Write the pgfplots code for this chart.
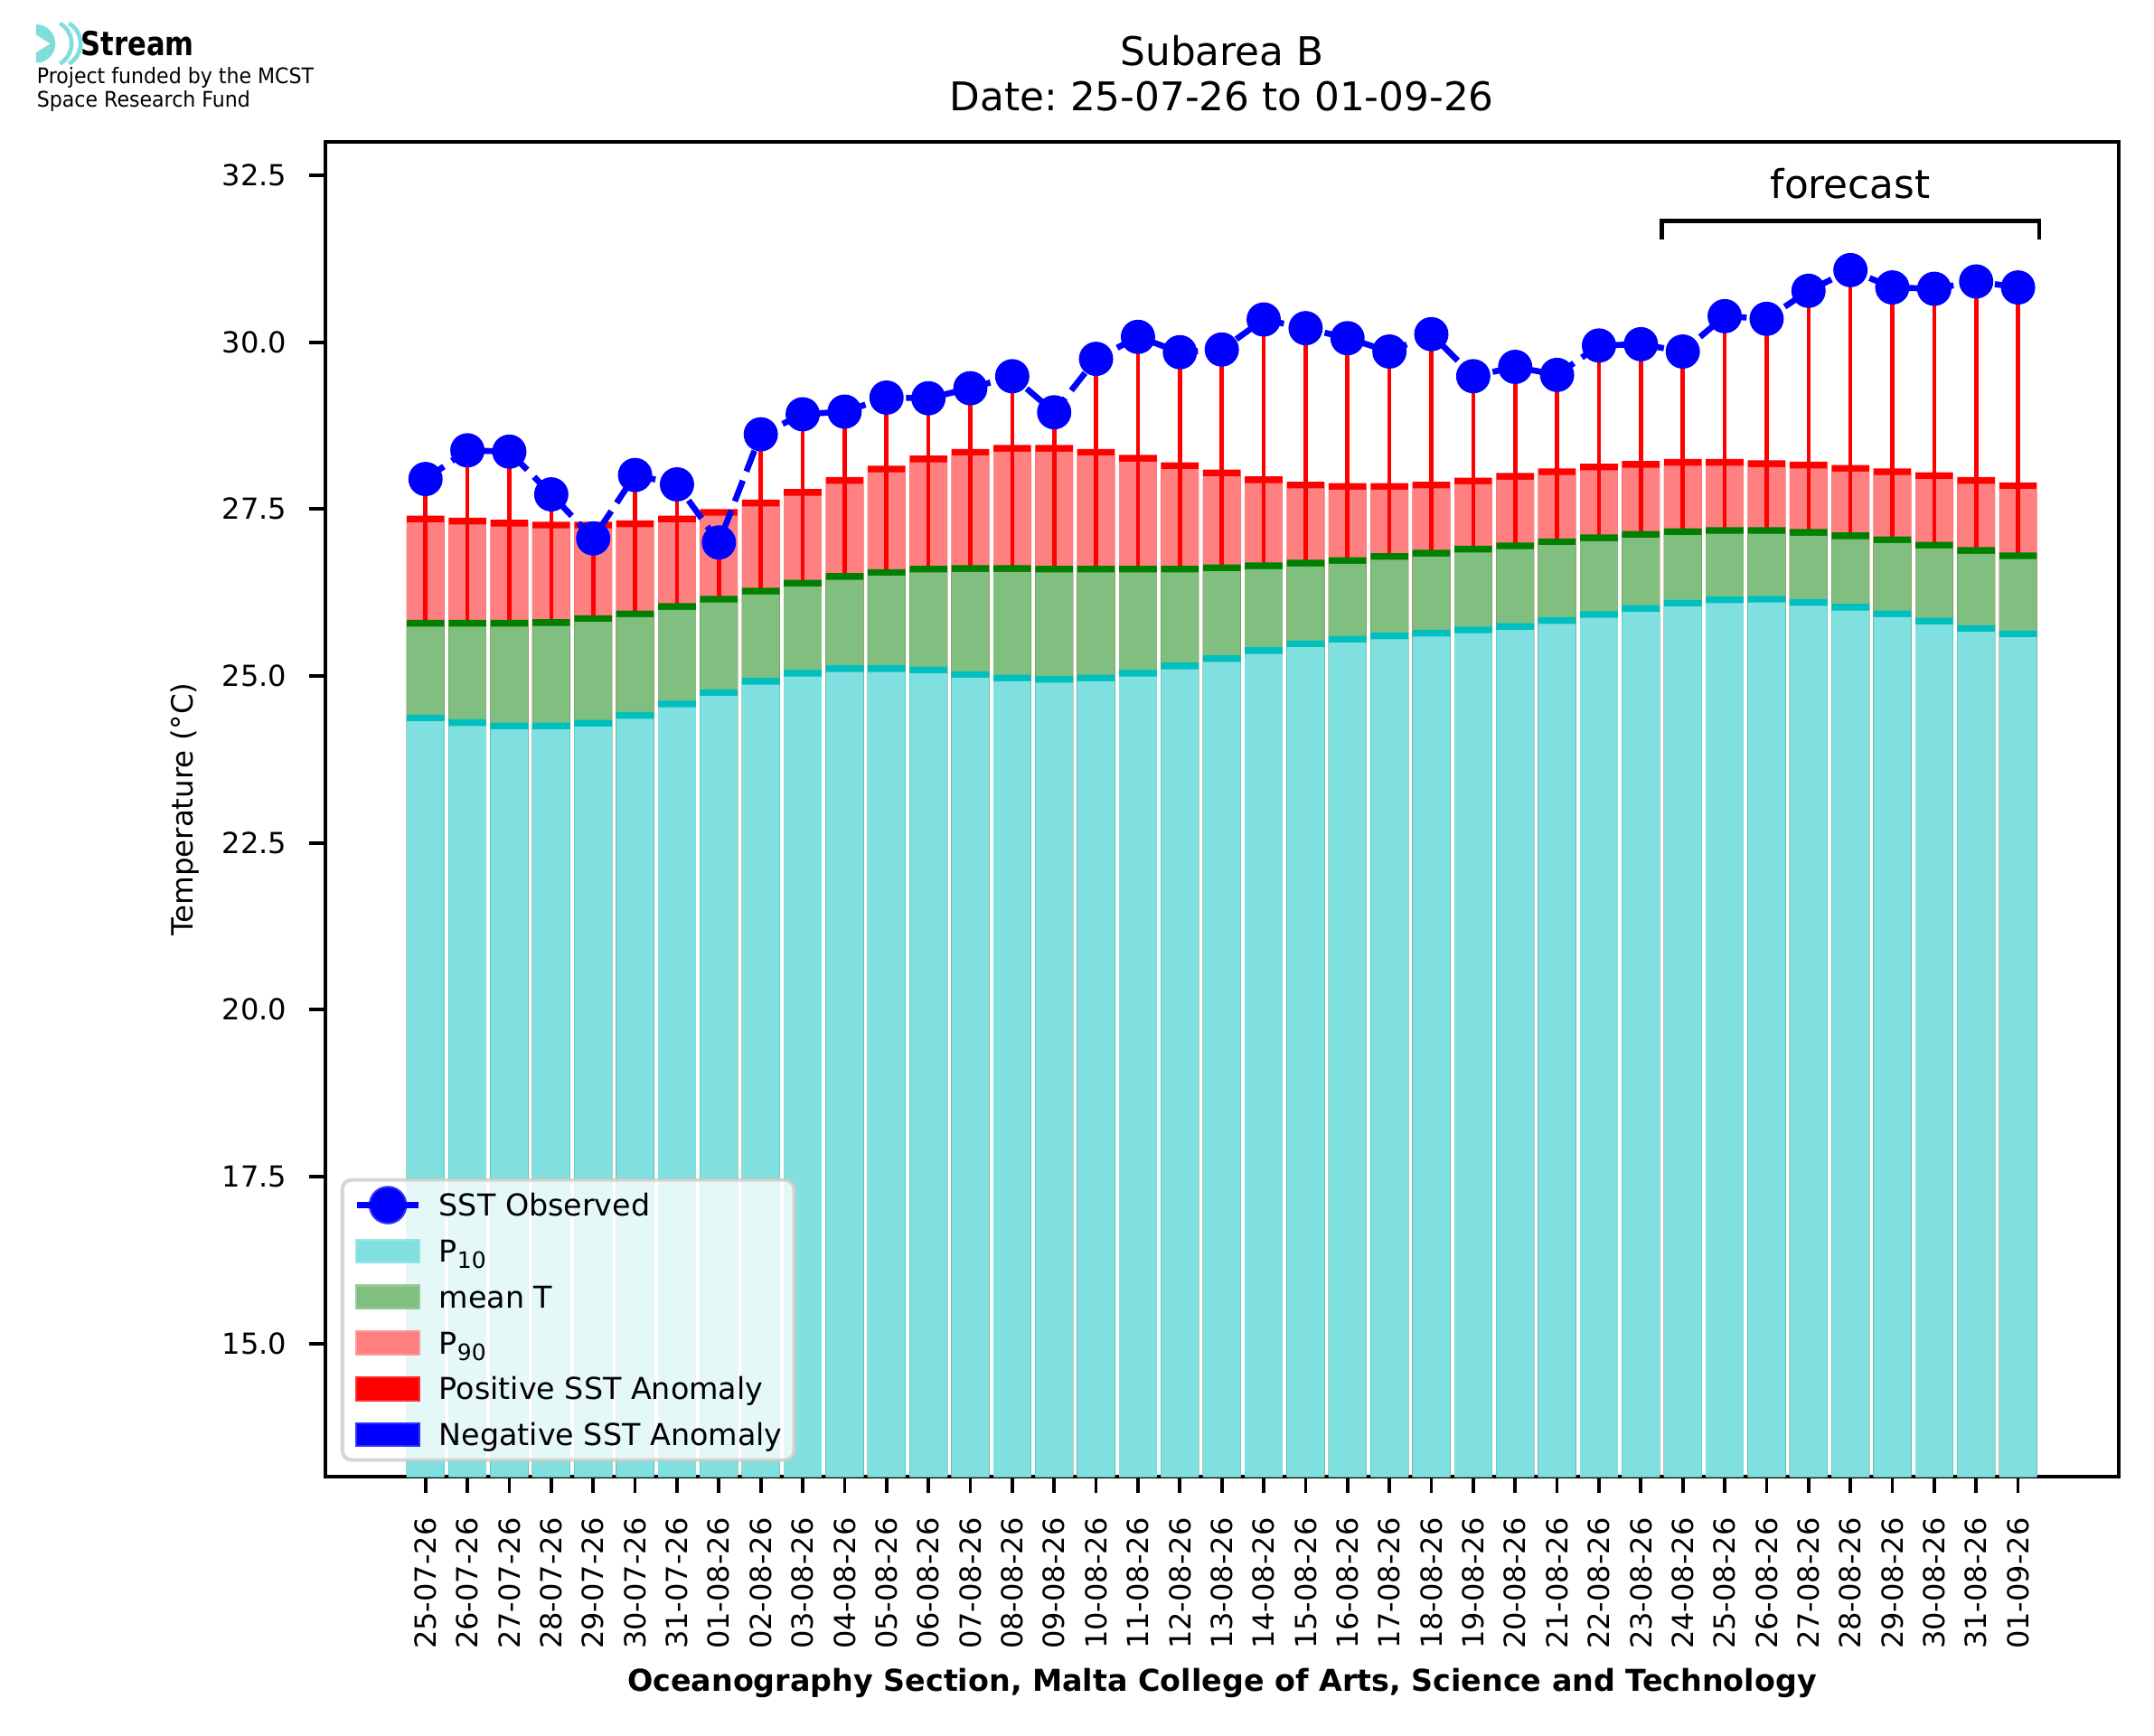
\documentclass[border=0pt]{standalone}
\usepackage{fontspec}
\setmainfont{DejaVu Sans}
\usepackage{graphicx}
\usepackage{pgfplots}
\usepackage{pgfplotstable}
\pgfplotsset{compat=1.18}
\frenchspacing

\definecolor{ptenL}{HTML}{80DFDF}
\definecolor{ptenD}{HTML}{00BFBF}
\definecolor{meanL}{HTML}{80BF80}
\definecolor{meanD}{HTML}{008000}
\definecolor{pninL}{HTML}{FF8080}
\definecolor{logoc}{HTML}{7FDDDB}

\pgfplotstableread{
i sst p10 mean p90
0 27.95 24.42 25.84 27.40
1 28.38 24.35 25.84 27.37
2 28.36 24.30 25.84 27.34
3 27.72 24.30 25.85 27.31
4 27.06 24.34 25.91 27.31
5 28.01 24.46 25.98 27.33
6 27.87 24.63 26.09 27.40
7 27.00 24.80 26.20 27.50
8 28.62 24.97 26.32 27.64
9 28.92 25.09 26.44 27.80
10 28.96 25.16 26.54 27.98
11 29.17 25.16 26.60 28.15
12 29.16 25.14 26.65 28.30
13 29.31 25.07 26.66 28.40
14 29.49 25.02 26.66 28.46
15 28.95 25.00 26.65 28.46
16 29.75 25.02 26.65 28.40
17 30.08 25.09 26.65 28.31
18 29.85 25.20 26.65 28.20
19 29.89 25.31 26.67 28.09
20 30.34 25.43 26.70 27.99
21 30.21 25.53 26.74 27.91
22 30.06 25.60 26.78 27.89
23 29.86 25.65 26.84 27.89
24 30.12 25.69 26.89 27.91
25 29.49 25.74 26.95 27.97
26 29.63 25.79 27.00 28.04
27 29.51 25.88 27.06 28.11
28 29.95 25.97 27.12 28.18
29 29.97 26.06 27.17 28.22
30 29.86 26.14 27.21 28.25
31 30.39 26.19 27.23 28.25
32 30.35 26.20 27.23 28.23
33 30.77 26.15 27.20 28.21
34 31.08 26.08 27.15 28.16
35 30.82 25.98 27.09 28.11
36 30.80 25.87 27.01 28.05
37 30.91 25.76 26.93 27.98
38 30.82 25.68 26.85 27.90
}\data

\begin{document}
\begin{tikzpicture}
\path[use as bounding box] (-86.4pt,-68.7pt) rectangle (485.6pt,392.3pt);
\begin{axis}[
  at={(0pt,0pt)}, anchor=south west,
  scale only axis, width=476.2pt, height=354.6pt,
  xmin=-2.39, xmax=40.4, ymin=13, ymax=33,
  axis line style={line width=0.9pt},
  xtick={0,...,38},
  xticklabels={25-07-26,26-07-26,27-07-26,28-07-26,29-07-26,30-07-26,31-07-26,01-08-26,02-08-26,03-08-26,04-08-26,05-08-26,06-08-26,07-08-26,08-08-26,09-08-26,10-08-26,11-08-26,12-08-26,13-08-26,14-08-26,15-08-26,16-08-26,17-08-26,18-08-26,19-08-26,20-08-26,21-08-26,22-08-26,23-08-26,24-08-26,25-08-26,26-08-26,27-08-26,28-08-26,29-08-26,30-08-26,31-08-26,01-09-26},
  ytick={15,17.5,20,22.5,25,27.5,30,32.5},
  tick align=outside, xtick pos=bottom, ytick pos=left,
  major tick length=4.3pt,
  every tick/.style={black, line width=0.9pt},
  /pgf/number format/assume math mode=true,
  tick label style={font=\fontsize{7.7}{9}\selectfont},
  xticklabel style={yshift=-6.3pt, rotate=90, anchor=east, inner sep=0pt},
  y tick label style={/pgf/number format/.cd, fixed, fixed zerofill, precision=1, /tikz/.cd, anchor=east, inner sep=0pt, xshift=-5.8pt},
  legend style={
    at={(0.0084,0.0113)}, anchor=south west,
    draw=black!20, draw opacity=0.8, line width=1pt,
    fill=white, fill opacity=0.8, text opacity=1,
    rounded corners=2.5pt,
    font=\fontsize{8}{9.6}\selectfont,
    inner xsep=3.2pt, inner ysep=0.6pt,
    row sep=0pt, column sep=4.7pt,
    nodes={inner sep=0pt, text height=9.0pt, text depth=3.2pt, text opacity=1},
    cells={anchor=west},
  },
  legend cell align=left,
]
\addlegendimage{legend image code/.code={
  \draw[blue, line width=1.6pt, draw opacity=1, sharp corners] (0pt,0pt) -- (16.2pt,0pt);
  \fill[blue, fill opacity=1] (8.1pt,0pt) circle[radius=4.6pt];}}
\addlegendentry{SST Observed}
\addlegendimage{legend image code/.code={\fill[ptenL, fill opacity=1, sharp corners] (0pt,-2.8pt) rectangle (16.2pt,2.8pt);}}
\addlegendentry{P\textsubscript{10}}
\addlegendimage{legend image code/.code={\fill[meanL, fill opacity=1, sharp corners] (0pt,-2.8pt) rectangle (16.2pt,2.8pt);}}
\addlegendentry{mean T}
\addlegendimage{legend image code/.code={\fill[pninL, fill opacity=1, sharp corners] (0pt,-2.8pt) rectangle (16.2pt,2.8pt);}}
\addlegendentry{P\textsubscript{90}}
\addlegendimage{legend image code/.code={\fill[red, fill opacity=1, sharp corners] (0pt,-2.8pt) rectangle (16.2pt,2.8pt);}}
\addlegendentry{Positive SST Anomaly}
\addlegendimage{legend image code/.code={\fill[blue, fill opacity=1, sharp corners] (0pt,-2.8pt) rectangle (16.2pt,2.8pt);}}
\addlegendentry{Negative SST Anomaly}

% P90 band and body
\addplot[ybar, bar width=0.9, bar shift=0pt, fill=red, draw=none, forget plot] table[x=i, y=p90]{\data};
\addplot[ybar, bar width=0.9, bar shift=0pt, fill=pninL, draw=none, forget plot] table[x=i, y expr=\thisrow{p90}-0.1]{\data};
% positive anomaly lines (mean to SST; lower part hidden by the mean bars)
\addplot[ycomb, red, line width=1.1pt, forget plot] table[x=i, y=sst]{\data};
% mean band and body
\addplot[ybar, bar width=0.9, bar shift=0pt, fill=meanD, draw=none, forget plot] table[x=i, y=mean]{\data};
\addplot[ybar, bar width=0.9, bar shift=0pt, fill=meanL, draw=none, forget plot] table[x=i, y expr=\thisrow{mean}-0.1]{\data};
% P10 band and body
\addplot[ybar, bar width=0.9, bar shift=0pt, fill=ptenD, draw=none, forget plot] table[x=i, y=p10]{\data};
\addplot[ybar, bar width=0.9, bar shift=0pt, fill=ptenL, draw=none, forget plot] table[x=i, y expr=\thisrow{p10}-0.1]{\data};
% SST observed
\addplot[blue, line width=1.6pt, dash pattern=on 5.9pt off 2.6pt, mark=*, mark size=4.3pt,
  mark options={solid, fill=blue, draw=blue, line width=0.5pt}, forget plot] table[x=i, y=sst]{\data};

% forecast bracket
\draw[line width=1.1pt] (axis cs:29.5,31.54) -- (axis cs:29.5,31.82) -- (axis cs:38.5,31.82) -- (axis cs:38.5,31.54);
\node[font=\fontsize{10.5}{12}\selectfont, anchor=base, inner sep=0pt] at (axis cs:34,32.16) {forecast};
\end{axis}

% titles
\node[font=\fontsize{10.5}{12}\selectfont, anchor=base, inner sep=0pt] at (238.1pt,374.8pt) {Subarea B};
\node[font=\fontsize{10.5}{12}\selectfont, anchor=base, inner sep=0pt] at (238.1pt,363.0pt) {Date: 25-07-26 to 01-09-26};
% axis labels
\node[font=\fontsize{7.8}{9}\selectfont, rotate=90, inner sep=0pt] at (-37.2pt,177.3pt) {Temperature (°C)};
\node[font=\bfseries\fontsize{8}{9.6}\selectfont, anchor=base, inner sep=0pt] at (238.1pt,-57.0pt) {Oceanography Section, Malta College of Arts, Science and Technology};

% logo
\fill[logoc] (-76.8pt,375.6pt) -- (-76.8pt,385.8pt) arc[start angle=90, end angle=-90, radius=5.1pt] -- cycle;
\fill[white] (-76.8pt,383.0pt) -- (-73.1pt,380.7pt) -- (-76.8pt,378.4pt) -- cycle;
\draw[logoc, line width=1.1pt] (-70.5pt,386.1pt) arc[start angle=60, end angle=-60, radius=6.2pt];
\draw[logoc, line width=1.1pt] (-68.1pt,386.1pt) arc[start angle=60, end angle=-60, radius=6.2pt];
\node[anchor=base west, inner sep=0pt, font=\bfseries\fontsize{8.8}{10}\selectfont] at (-65.1pt,377.5pt) {\scalebox{0.835}[1]{Stream}};
\node[anchor=base west, inner sep=0pt, font=\fontsize{5.7}{6.5}\selectfont] at (-76.8pt,370.0pt) {\scalebox{0.93}[1]{Project funded by the MCST}};
\node[anchor=base west, inner sep=0pt, font=\fontsize{5.7}{6.5}\selectfont] at (-76.8pt,363.8pt) {\scalebox{0.93}[1]{Space Research Fund}};
\end{tikzpicture}
\end{document}
